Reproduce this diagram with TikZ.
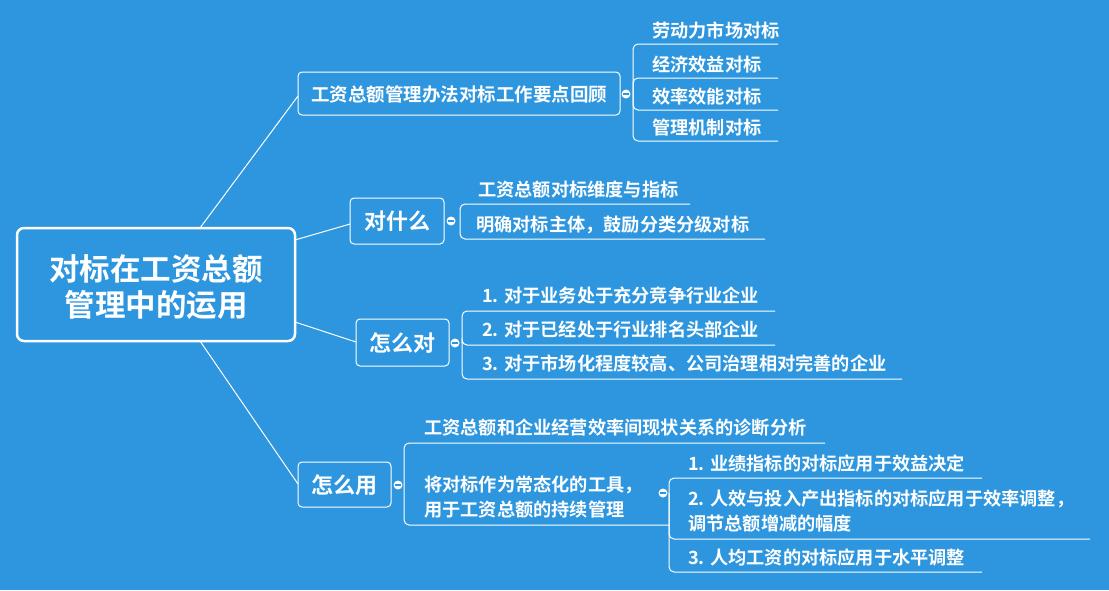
\documentclass[tikz,border=0pt]{standalone}
\usepackage{fontspec}
\setmainfont{Noto Sans CJK SC}[BoldFont={* Bold}]
\definecolor{bg}{HTML}{2D96DE}
\begin{document}
\begin{tikzpicture}[x=1pt,y=-1pt,
  every node/.style={text=white,font=\bfseries\fontsize{18.2}{25}\selectfont},
  ln/.style={draw=white,line width=1pt},
  br/.style={draw=white,line width=1pt,rounded corners=5pt},
  box/.style={draw=white,line width=1pt,rounded corners=4pt},
  lt/.style={anchor=west,inner sep=0pt},
  dot/.style={circle,fill=white,minimum size=9pt,inner sep=0pt}]
\fill[bg] (0,0) rectangle (1109,590);
\useasboundingbox (0,0) rectangle (1109,590);
% root
\draw[box,line width=2.5pt,rounded corners=7pt] (17,228) rectangle (295,341);
\node[font=\bfseries\fontsize{30.5}{36}\selectfont,align=center] (root) at (156,287) {对标在工资总额\\管理中的运用};
% branch boxes
\draw[box] (298,72) rectangle (620,115); \node (b1) at (459,94) {\fontsize{18.5}{20}\selectfont 工资总额管理办法对标工作要点回顾};
\draw[box] (350,198) rectangle (444,244); \node (b2) at (397,221) {\fontsize{22}{24}\selectfont 对什么};
\draw[box] (356,319) rectangle (449,366); \node (b3) at (402,343) {\fontsize{22}{24}\selectfont 怎么对};
\draw[box] (298,462) rectangle (391,507); \node (b4) at (344,485) {\fontsize{22}{24}\selectfont 怎么用};
\coordinate (r1) at (200,228); \coordinate (e1) at (298,96);
\coordinate (r2) at (295,240); \coordinate (e2) at (350,224);
\coordinate (r3) at (295,322); \coordinate (e3) at (356,342);
\coordinate (r4) at (200,341); \coordinate (e4) at (298,484);
\foreach \i in {1,2,3,4} \draw[ln] (r\i) -- (e\i);
% branch 1 children
\foreach \y/\t in {44/劳动力市场对标,78/经济效益对标,110/效率效能对标,141/管理机制对标}{
  \draw[br] (633,94) |- (778,\y);
  \node[lt] at (652,\y-13) {\t};}
\node[dot] (c1) at (626,94) {}; \draw[bg,line width=1.2pt] (623,94) -- (629,94);
% branch 2
\draw[br] (460,221) |- (690,204); \node[lt] at (478,190) {工资总额对标维度与指标};
\draw[br] (460,221) |- (765,239); \node[lt] at (476,225) {明确对标主体，鼓励分类分级对标};
\node[dot] (c2) at (451,221) {}; \draw[bg,line width=1.2pt] (448,221) -- (454,221);
% branch 3
\foreach \y/\e/\t in {311/775/1. 对于业务处于充分竞争行业企业,345/775/2. 对于已经处于行业排名头部企业,379/902/3. 对于市场化程度较高、公司治理相对完善的企业}{
  \draw[br] (462,343) |- (\e,\y);
  \node[lt] at (482,\y-15) {\t};}
\node[dot] (c3) at (455,343) {}; \draw[bg,line width=1.2pt] (452,343) -- (458,343);
% branch 4
\draw[br] (404,485) |- (825,443); \node[lt] at (424,428) {工资总额和企业经营效率间现状关系的诊断分析};
\draw[br] (404,485) |- (669,525);
\node[lt,align=left] at (424,497) {将对标作为常态化的工具，\\用于工资总额的持续管理};
\node[dot] (c4) at (398,485) {}; \draw[bg,line width=1.2pt] (395,485) -- (401,485);
\draw[br] (669,493) |- (982,478); \node[lt] at (688,464) {1. 业绩指标的对标应用于效益决定};
\draw[br] (669,493) |- (1090,539); \node[lt,align=left] at (688,511) {2. 人效与投入产出指标的对标应用于效率调整，\\调节总额增减的幅度};
\draw[br] (669,493) |- (982,572); \node[lt] at (688,558) {3. 人均工资的对标应用于水平调整};
\node[dot] (c5) at (663,493) {}; \draw[bg,line width=1.2pt] (660,493) -- (666,493);
\end{tikzpicture}
\end{document}
